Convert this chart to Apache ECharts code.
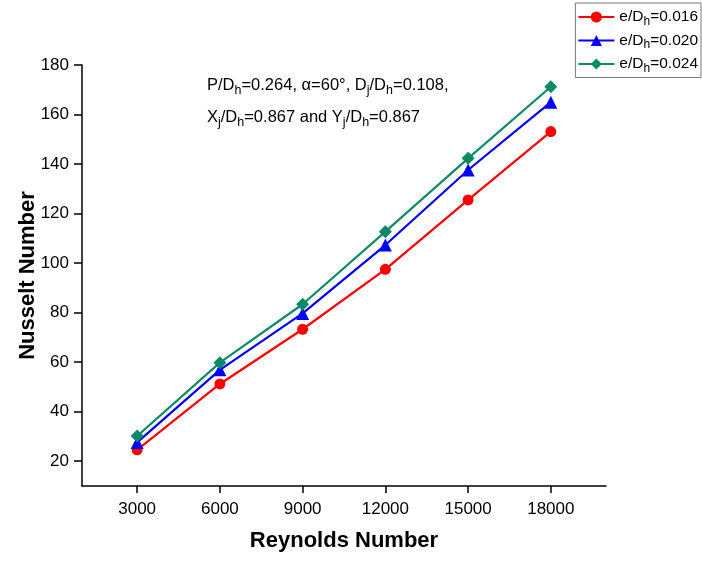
<!DOCTYPE html>
<html><head><meta charset="utf-8">
<script src="https://cdn.jsdelivr.net/npm/echarts@6/dist/echarts.min.js"></script>
<style>html,body{margin:0;padding:0;background:#fff}#c{width:702px;height:561px}</style>
</head><body><div id="c"></div>
<script>
const reynolds = [3000, 6000, 9000, 12000, 15000, 18000];
const nu016 = [24.6, 51.2, 73.3, 97.5, 125.5, 153.1];
const nu020 = [27.6, 56.9, 79.7, 107.3, 137.6, 165.0];
const nu024 = [30.2, 59.8, 83.4, 112.7, 142.3, 171.2];
const xTicks = [3000, 6000, 9000, 12000, 15000, 18000];
const yTicks = [20, 40, 60, 80, 100, 120, 140, 160, 180];
const seriesNames = ['0.016', '0.020', '0.024'];

const F = 'Liberation Sans, Arial, sans-serif';
const pair = (xs, ys) => xs.map((x, i) => [x, ys[i]]);
const legRich = {
  t: {fontFamily: F, fontSize: 15.5, color: '#000'},
  s: {fontFamily: F, fontSize: 12, color: '#000', padding: [9, 0, 0, 0]}
};
const annRich = {
  t: {fontFamily: F, fontSize: 16.5, color: '#000'},
  s: {fontFamily: F, fontSize: 12.5, color: '#000', padding: [10, 0, 0, 0]}
};
const chart = echarts.init(document.getElementById('c'));
const mk = (name, data, color, symbol, size) => ({
  name: name, type: 'line', data: data,
  symbol: symbol, symbolSize: size,
  lineStyle: {color: color, width: 2.2},
  itemStyle: {color: color},
  z: 3
});
chart.setOption({
  animation: false,
  grid: {left: 82, top: 65, right: 96, bottom: 75},
  xAxis: {
    type: 'value', min: 1000, max: 20000,
    name: 'Reynolds Number', nameLocation: 'middle', nameGap: 44,
    nameTextStyle: {fontFamily: F, fontSize: 22, fontWeight: 'bold', color: '#000'},
    axisLine: {lineStyle: {color: '#000', width: 1.5}},
    axisTick: {customValues: xTicks, length: 7, lineStyle: {color: '#000', width: 1.5}},
    axisLabel: {customValues: xTicks, formatter: v => String(v), fontFamily: F, fontSize: 17, color: '#000', margin: 15},
    splitLine: {show: false}
  },
  yAxis: {
    type: 'value', min: 10, max: 180,
    name: 'Nusselt Number', nameLocation: 'middle', nameGap: 43, nameMoveOverlap: false,
    nameTextStyle: {fontFamily: F, fontSize: 22, fontWeight: 'bold', color: '#000'},
    axisLine: {show: true, lineStyle: {color: '#000', width: 1.5}},
    axisTick: {show: true, customValues: yTicks, length: 8, lineStyle: {color: '#000', width: 1.5}},
    axisLabel: {customValues: yTicks, fontFamily: F, fontSize: 17, color: '#000', margin: 13},
    splitLine: {show: false}
  },
  legend: {
    orient: 'vertical', right: 1, top: 3,
    backgroundColor: '#fff', borderColor: '#777', borderWidth: 1,
    padding: [6, 3, 3, 2], itemGap: 5, itemWidth: 36, itemHeight: 14,
    data: ['e016', 'e020', 'e024'],
    formatter: function (n) {
      const v = {e016: seriesNames[0], e020: seriesNames[1], e024: seriesNames[2]}[n];
      return '{t|e/D}{s|h}{t|=' + v + '}';
    },
    textStyle: {rich: legRich}
  },
  graphic: [
    {type: 'text', left: 207, top: 77, z: 10,
     style: {text: '{t|P/D}{s|h}{t|=0.264, α=60°, D}{s|j}{t|/D}{s|h}{t|=0.108,}', rich: annRich}},
    {type: 'text', left: 207, top: 109, z: 10,
     style: {text: '{t|X}{s|j}{t|/D}{s|h}{t|=0.867 and Y}{s|j}{t|/D}{s|h}{t|=0.867}', rich: annRich}}
  ],
  series: [
    mk('e016', pair(reynolds, nu016), '#ff0000', 'circle', 11),
    mk('e020', pair(reynolds, nu020), '#0000ff', 'triangle', 13),
    mk('e024', pair(reynolds, nu024), '#0b8a68', 'diamond', 13)
  ]
});
</script></body></html>
